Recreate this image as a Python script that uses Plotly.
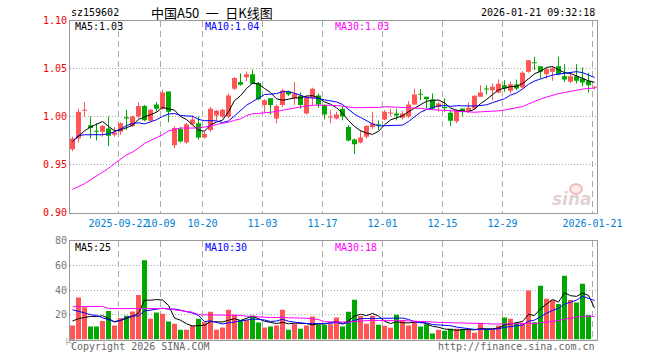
import plotly.graph_objects as go

# ---------------- data ----------------
tick_idx = [8, 15, 22, 32, 42, 52, 62, 72, 87]
tick_labels = ["2025-09-22", "10-09", "10-20", "11-03", "11-17",
               "12-01", "12-15", "12-29", "2026-01-21"]

opens = [0.966, 0.977, 1.006, 0.991, 0.9845, 0.984, 0.9875, 0.981, 0.984, 0.999,
         0.990, 1.000, 1.011, 0.9955, 1.0125, 1.008, 1.026, 0.970, 0.987, 0.973,
         0.992, 0.993, 0.978, 0.986, 1.001, 1.000, 1.000, 1.029, 1.036, 1.041,
         1.044, 1.035, 1.012, 1.019, 0.998, 1.012, 1.026, 1.019, 1.0215, 1.003,
         1.019, 1.022, 1.012, 0.999, 0.998, 1.008, 0.989, 0.976, 0.973, 0.979,
         0.989, 0.9912, 0.997, 1.003, 1.003, 0.9986, 1.000, 1.0125, 1.0232, 1.0205,
         1.0177, 1.010, 1.009, 1.004, 0.995, 1.0083, 1.0056, 1.0083, 1.0205, 1.0286,
         1.0274, 1.025, 1.0326, 1.0267, 1.0333, 1.0302, 1.0465, 1.0562, 1.0524, 1.0441,
         1.0465, 1.0524, 1.042, 1.0361, 1.042, 1.0396, 1.0372, 1.0299]
highs = [0.979, 1.008, 1.015, 1.000, 0.993, 0.991, 1.000, 0.989, 0.994, 1.007,
         1.001, 1.015, 1.012, 1.008, 1.015, 1.028, 1.026, 0.990, 0.989, 0.993,
         1.001, 1.000, 0.984, 1.010, 1.007, 1.008, 1.024, 1.041, 1.045, 1.047,
         1.049, 1.036, 1.018, 1.019, 1.0125, 1.029, 1.027, 1.036, 1.025, 1.022,
         1.030, 1.024, 1.0125, 1.0066, 1.005, 1.010, 0.991, 0.977, 0.986, 0.991,
         1.005, 0.996, 1.0066, 1.008, 1.008, 1.0056, 1.016, 1.029, 1.0285, 1.0205,
         1.024, 1.0153, 1.019, 1.0066, 1.0076, 1.0083, 1.0146, 1.0222, 1.0326, 1.0323,
         1.0344, 1.0385, 1.0378, 1.0361, 1.0385, 1.0472, 1.0587, 1.0622, 1.0524, 1.051,
         1.0517, 1.0622, 1.0545, 1.0448, 1.0545, 1.051, 1.0455, 1.0316]
lows = [0.964, 0.973, 1.000, 0.977, 0.975, 0.979, 0.969, 0.979, 0.981, 0.986,
        0.989, 0.998, 0.995, 0.995, 1.005, 1.007, 0.994, 0.967, 0.973, 0.9715,
        0.991, 0.976, 0.977, 0.984, 0.996, 0.9986, 0.998, 1.0275, 1.032, 1.037,
        1.034, 1.017, 1.004, 1.002, 0.993, 1.010, 1.0215, 1.012, 1.008, 1.002,
        1.012, 1.009, 0.997, 0.993, 0.997, 0.996, 0.974, 0.961, 0.972, 0.977,
        0.987, 0.986, 0.996, 1.000, 0.996, 0.997, 0.9986, 1.012, 1.017, 1.008,
        1.0076, 1.005, 1.005, 0.990, 0.993, 1.000, 1.004, 1.0073, 1.0205, 1.0229,
        1.017, 1.024, 1.0257, 1.024, 1.0274, 1.0292, 1.0455, 1.0483, 1.0396, 1.0396,
        1.0372, 1.043, 1.0361, 1.035, 1.0344, 1.0316, 1.0247, 1.0283]
closes = [0.977, 1.005, 1.007, 0.988, 0.984, 0.990, 0.980, 0.983, 0.993, 0.998,
          1.000, 1.011, 0.996, 1.007, 1.008, 1.025, 1.005, 0.988, 0.974, 0.992,
          0.997, 0.978, 0.982, 1.008, 1.006, 1.007, 1.022, 1.040, 1.033, 1.044,
          1.034, 1.018, 1.017, 1.012, 1.011, 1.027, 1.023, 1.024, 1.012, 1.0205,
          1.029, 1.0125, 1.002, 1.000, 1.002, 1.000, 0.975, 0.971, 0.978, 0.990,
          0.993, 0.9908, 1.005, 1.0035, 1.001, 1.003, 1.0125, 1.023, 1.0226, 1.018,
          1.0083, 1.0135, 1.0087, 0.9955, 1.0066, 1.005, 1.009, 1.0215, 1.025, 1.028,
          1.0309, 1.034, 1.0292, 1.0337, 1.0292, 1.0455, 1.0587, 1.0555, 1.0465, 1.0493,
          1.050, 1.0441, 1.0385, 1.042, 1.0372, 1.0354, 1.0326, 1.031]
volumes = [11.4, 34, 26, 10.5, 10.5, 15, 23, 11.4, 17.3, 19.2,
           22.7, 36, 64, 16.8, 21.9, 20.8, 14.6, 12.7, 7.8, 7.8,
           11.4, 16.8, 14, 22.4, 7.8, 9.7, 24, 20, 15.4, 15.7,
           19.2, 13.8, 9.7, 10.5, 11.4, 24, 7.8, 12.7, 8.6, 11.4,
           18.6, 12.4, 12.0, 12.4, 17.8, 10.5, 22.4, 32.2, 18.9, 12.7,
           19.2, 11.9, 11.1, 9.5, 20, 15.1, 11.4, 14, 10.5, 12.4,
           4.9, 7.8, 7.0, 8.6, 8.6, 8.4, 7.8, 5.4, 13.5, 7.8,
           8.6, 11.4, 17.8, 16.8, 13.5, 13.5, 39.5, 14, 43.5, 33,
           32, 28.6, 51.6, 32, 30, 45, 19.5, 0.5]

# moving-average values at the left edge (earlier days are not on the chart)
price_ma5_head = [0.974, 0.980, 0.985, 0.989]
price_ma10_head = [0.974, 0.980, 0.981, 0.981, 0.981, 0.981, 0.982, 0.984, 0.987]
price_ma30_head = [0.924, 0.927, 0.930, 0.934, 0.938, 0.942, 0.946, 0.951, 0.956, 0.960,
                   0.963, 0.967, 0.972, 0.975, 0.978, 0.981, 0.985, 0.9865, 0.988, 0.988,
                   0.988, 0.988, 0.989, 0.990, 0.9917, 0.993, 0.994, 0.996, 0.9975]
vol_ma5_head = [15, 16.8, 17.8, 18.6]
vol_ma10_head = [24, 23, 21.5, 20, 19.5, 17.5, 16, 14.5, 15.5]
vol_ma30_head = [26.5, 26.5, 26.8, 26.8, 26.8, 26.8, 25, 25, 25, 25,
                 25, 25, 25, 25, 25, 25, 25, 24, 23.5, 23,
                 22, 20, 20, 20, 20, 20, 20, 19.8, 19.5]

price_labels = ["MA5:1.03", "MA10:1.04", "MA30:1.03"]
vol_labels = ["MA5:25", "MA10:30", "MA30:18"]


def moving_average(vals, n, head):
    out = list(head)
    for i in range(n - 1, len(vals)):
        out.append(sum(vals[i - n + 1:i + 1]) / n)
    return out


# ---------------- styling ----------------
W, H = 660, 360
RED = "#ff5555"
GREEN = "#00a800"
GRID = "#aaaaaa"
FRAME = "#999999"
MONO = "DejaVu Sans Mono, Liberation Mono, monospace"

X_L, X_R = 70, 597
MAIN_TOP, MAIN_BOT = 20.5, 212.5
VOL_TOP, VOL_BOT = 240.5, 339.5


def fx(px):
    return px / W


def fy(py):
    return 1 - py / H


n = len(closes)
idx = list(range(n))
up = [c >= o for o, c in zip(opens, closes)]
colors = [RED if u else GREEN for u in up]

ma5 = moving_average(closes, 5, price_ma5_head)
ma10 = moving_average(closes, 10, price_ma10_head)
ma30 = moving_average(closes, 30, price_ma30_head)
vma5 = moving_average(volumes, 5, vol_ma5_head)
vma10 = moving_average(volumes, 10, vol_ma10_head)
vma30 = moving_average(volumes, 30, vol_ma30_head)

fig = go.Figure()

# wicks
for want, col in ((True, RED), (False, GREEN)):
    xs, ys = [], []
    for i in idx:
        if up[i] == want:
            xs += [i, i, None]
            ys += [lows[i], highs[i], None]
    fig.add_trace(go.Scatter(x=xs, y=ys, mode="lines", line=dict(color=col, width=1),
                             hoverinfo="skip", xaxis="x", yaxis="y"))

# bodies
bases = [min(o, c) for o, c in zip(opens, closes)]
heights = [max(abs(c - o), 0.0011) for o, c in zip(opens, closes)]
fig.add_trace(go.Bar(x=idx, y=heights, base=bases, width=5 / 6,
                     marker=dict(color=colors, line=dict(width=0)),
                     xaxis="x", yaxis="y"))

for vals, col in ((ma5, "#000000"), (ma10, "#0000ff"), (ma30, "#ff00ff")):
    fig.add_trace(go.Scatter(x=idx, y=vals, mode="lines", line=dict(color=col, width=1),
                             xaxis="x", yaxis="y"))

# volume
fig.add_trace(go.Bar(x=idx, y=volumes, width=5 / 6,
                     marker=dict(color=colors, line=dict(width=0)),
                     xaxis="x2", yaxis="y2"))
for vals, col in ((vma5, "#000000"), (vma10, "#0000ff"), (vma30, "#ff00ff")):
    fig.add_trace(go.Scatter(x=idx, y=vals, mode="lines", line=dict(color=col, width=1),
                             xaxis="x2", yaxis="y2"))

xr = [-(2.5 / 6), (X_R - X_L) / 6 - 2.5 / 6]
grid_x = [i - 1 / 3 for i in tick_idx]

common_x = dict(range=xr, domain=[fx(X_L), fx(X_R)], tickmode="array", tickvals=grid_x,
                showgrid=True, gridcolor=GRID, griddash="6px,4px", gridwidth=1,
                showline=True, linecolor=FRAME, linewidth=1, mirror=True,
                zeroline=False, ticks="", fixedrange=True, automargin=False,
                tickangle=0)

fig.update_layout(
    width=W, height=H, margin=dict(l=0, r=0, t=0, b=0, autoexpand=False),
    paper_bgcolor="white", plot_bgcolor="white", showlegend=False,
    barmode="overlay",
    xaxis=dict(**common_x, anchor="y", ticktext=tick_labels,
               tickfont=dict(family=MONO, size=10, color="#0080d0"),
               ticklabelstandoff=1),
    xaxis2=dict(**common_x, anchor="y2", matches="x", showticklabels=False),
    yaxis=dict(domain=[fy(MAIN_BOT), fy(MAIN_TOP)], range=[0.90, 1.10],
               tickmode="array", tickvals=[0.90, 0.95, 1.00, 1.05, 1.10],
               ticktext=["0.90", "0.95", "1.00", "1.05", "1.10"],
               tickfont=dict(family=MONO, size=10, color="#ee0000"),
               showgrid=True, gridcolor=GRID, griddash="1px,2px",
               showline=True, linecolor=FRAME, linewidth=1, mirror=True,
               zeroline=False, ticks="", fixedrange=True, anchor="x",
               automargin=False),
    yaxis2=dict(domain=[fy(VOL_BOT), fy(VOL_TOP)], range=[0, 80],
                tickmode="array", tickvals=[20, 40, 60, 80],
                ticktext=["20", "40", "60", "80"],
                tickfont=dict(family=MONO, size=10, color="#777777"),
                showgrid=True, gridcolor=GRID, griddash="1px,2px",
                showline=True, linecolor=FRAME, linewidth=1, mirror=True,
                zeroline=False, ticks="", fixedrange=True, anchor="x2",
                automargin=False),
)


def note(text, x, y, color="#000000", size=10, xanchor="left", family=MONO, **kw):
    fig.add_annotation(text=text, x=fx(x), y=fy(y), xref="paper", yref="paper",
                       xanchor=xanchor, yanchor="middle", showarrow=False,
                       font=dict(family=family, size=size, color=color), **kw)


note("sz159602", 69, 13)
note("中国A50\u2002一\u2002日K线图", 149, 13, size=13,
     family="Noto Sans CJK SC, sans-serif")
note("2026-01-21 09:32:18", 597, 13, xanchor="right")

lab_cols = ["#000000", "#0000ff", "#ff00ff"]
lab_x = [73, 203, 333]
for t, c, x in zip(price_labels, lab_cols, lab_x):
    note(t, x, 27, color=c)
for t, c, x in zip(vol_labels, lab_cols, lab_x):
    note(t, x, 247, color=c)

note("Copyright 2026 SINA.COM", 69, 346, color="#666666")
note("http://finance.sina.com.cn", 597, 346, color="#666666", xanchor="right")
note("万", 61, 342, color="#888888", size=8, textangle=-90,
     family="Noto Sans CJK SC, sans-serif")

# sina watermark
fig.add_shape(type="circle", xref="paper", yref="paper",
              x0=fx(570), x1=fx(582), y0=fy(194), y1=fy(184),
              line=dict(color="rgba(235,120,120,0.45)", width=2),
              fillcolor="rgba(240,170,170,0.25)")
fig.add_annotation(text="<b><i>sina</i></b>", x=fx(594), y=fy(199), xref="paper",
                   yref="paper", xanchor="right", yanchor="middle", showarrow=False,
                   font=dict(family="DejaVu Sans", size=17, color="rgba(200,170,170,0.55)"))

# place the chart at the window corner (no default page margin), no mode bar
fig.write_html("out.html", config={"displayModeBar": False, "staticPlot": True},
               post_script="document.body.style.margin='0';")
